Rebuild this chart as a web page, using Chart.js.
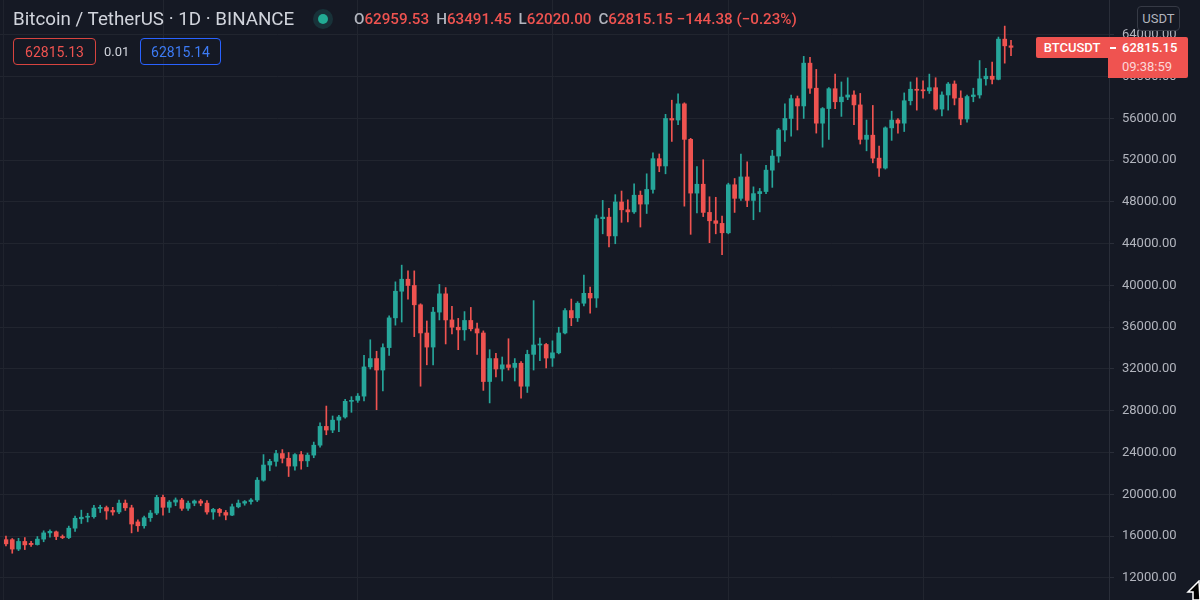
<!DOCTYPE html>
<html>
<head>
<meta charset="utf-8">
<script src="https://cdn.jsdelivr.net/npm/chart.js@4.4.1/dist/chart.umd.min.js"></script>
<style>
  html, body { margin: 0; padding: 0; background: #151924; }
  #wrap { position: relative; width: 1200px; height: 600px; overflow: hidden; font-family: Roboto, "DejaVu Sans", sans-serif; }
  #chart { position: absolute; left: 0; top: 0; }
  .edge { position: absolute; left: 3px; top: 0; width: 1px; height: 600px; background: #1f232d; }
  .txt { position: absolute; white-space: nowrap; }
  .title { left: 13px; top: 7px; font-size: 18.8px; line-height: 24px; color: #d1d4dc; }
  .dot { position: absolute; left: 313px; top: 9px; width: 20px; height: 20px; border-radius: 50%; background: rgba(38,166,154,0.18); }
  .dot::after { content: ""; position: absolute; left: 5px; top: 5px; width: 10px; height: 10px; border-radius: 50%; background: #22ab94; }
  .ohlc { left: 354px; top: 9px; font-size: 15.2px; line-height: 20px; color: #b2b5be; font-weight: 500; }
  .ohlc b { font-weight: 500; color: #ef5350; margin-right: 7px; }
  .box { position: absolute; top: 38px; height: 27px; line-height: 26px; border-radius: 4px; font-size: 14px; text-align: center; box-sizing: border-box; }
  .sell { left: 13px; width: 83px; border: 1.5px solid #d7443f; color: #ef5350; }
  .spread { position: absolute; left: 104px; top: 39px; line-height: 26px; font-size: 13px; color: #d1d4dc; }
  .buy { left: 140px; width: 81px; border: 1.5px solid #2962ff; color: #3d7bf5; }
  .unit { position: absolute; left: 1137px; top: 6px; width: 43px; height: 25px; line-height: 23px; border: 1px solid #363a45; border-radius: 4px; box-sizing: border-box; font-size: 13px; color: #b2b5be; text-align: center; background: #151924; }
  .sym { position: absolute; left: 1036px; top: 37px; width: 72px; height: 21px; line-height: 21px; background: #ef5350; color: #fff; font-size: 13px; font-weight: 500; text-align: center; border-radius: 2px 0 0 2px; }
  .last { position: absolute; left: 1108px; top: 37px; width: 80px; height: 41px; background: #ef5350; border-radius: 0 2px 2px 0; }
  .last .p { position: absolute; left: 14px; top: 1px; line-height: 20px; font-size: 13px; color: #fff; font-weight: 500; }
  .last .t { position: absolute; left: 14px; top: 20px; line-height: 20px; font-size: 13px; color: #fcd6d7; }
  .last .dash { position: absolute; left: 2px; top: 10px; width: 6px; height: 1.5px; background: #fff; }
  .cursor { position: absolute; left: 1186px; top: 580px; }
</style>
</head>
<body>
<div id="wrap">
  <canvas id="chart" width="1200" height="600"></canvas>
  <div class="edge"></div>
  <div class="txt title">Bitcoin / TetherUS · 1D · BINANCE</div>
  <div class="dot"></div>
  <div class="txt ohlc">O<b>62959.53</b>H<b>63491.45</b>L<b>62020.00</b>C<b>62815.15 −144.38 (−0.23%)</b></div>
  <div class="box sell">62815.13</div>
  <div class="spread">0.01</div>
  <div class="box buy">62815.14</div>
  <div class="unit">USDT</div>
  <div class="sym">BTCUSDT</div>
  <div class="last"><div class="dash"></div><div class="p">62815.15</div><div class="t">09:38:59</div></div>
  <svg class="cursor" width="14" height="20"><polygon points="13,1 2,12 7,12 7,20 14,20" fill="#000" stroke="#fff" stroke-width="1.5"/></svg>
</div>
<script>
// Daily BTC/USDT candles (index 0 = first candle on the left)
const opens = [15650, 15650, 14750, 15480, 15300, 15180, 15700, 16300, 16400, 15950,
  15850, 16750, 17650, 17800, 17850, 18650, 18720, 18450, 18300, 19150,
  18700, 17350, 16980, 17750, 18200, 19700, 18750, 19250, 19450, 18650,
  19150, 19350, 19150, 18300, 18550, 18250, 18000, 18800, 19150, 19300,
  19450, 21350, 22800, 23150, 23900, 23450, 22700, 23800, 23200, 23750,
  24700, 26500, 26150, 27100, 27400, 28900, 29000, 29400, 32200, 33000,
  31900, 34050, 36900, 39450, 40600, 40000, 38150, 35450, 34100, 37450,
  39200, 36700, 36000, 35750, 36650, 35850, 35450, 30800, 33000, 32000,
  32400, 32150, 32550, 30350, 33400, 34300, 34350, 33050, 33550, 35450,
  37600, 36900, 38300, 39250, 38800, 46400, 46550, 44750, 48000, 47250,
  47050, 48650, 47800, 49200, 52150, 51450, 56000, 55850, 57400, 54000,
  48850, 49700, 47000, 46200, 45950, 45050, 49650, 48350, 50400, 48150,
  48800, 49000, 51050, 52400, 54900, 56000, 57900, 57200, 61300, 58900,
  55550, 56950, 58850, 57600, 58050, 58250, 57300, 54000, 54400, 52200,
  51250, 55100, 55850, 55550, 57700, 58800, 58700, 58650, 58950, 56900,
  58250, 59300, 57950, 55950, 58100, 58250, 59800, 60050, 59750, 63600,
  62959.53];
const highs = [16000, 15760, 15780, 15850, 15500, 15950, 16500, 16600, 16480, 16100,
  16950, 17900, 18480, 18180, 18950, 18950, 18870, 18750, 19450, 19450,
  18950, 17550, 17900, 18450, 19900, 19930, 19400, 19650, 19600, 19350,
  19450, 19500, 19400, 18650, 18650, 18450, 19050, 19450, 19400, 19580,
  21600, 23800, 23350, 24200, 24280, 24000, 23900, 24100, 23950, 25000,
  26850, 28450, 27500, 27550, 29100, 29350, 29650, 33300, 34800, 33700,
  34400, 37100, 40350, 41950, 41400, 41400, 38250, 36600, 37900, 40100,
  39800, 38000, 36850, 37500, 37900, 36400, 35650, 33850, 33500, 33150,
  34900, 33000, 32700, 33800, 38550, 34950, 34450, 34700, 36000, 37800,
  38700, 38450, 41000, 39850, 46750, 48150, 47400, 48700, 49050, 48200,
  49750, 49050, 50700, 52700, 52600, 56400, 57750, 58350, 57500, 54100,
  51400, 52050, 48500, 48450, 46650, 49800, 50250, 52600, 51850, 49450,
  49300, 51500, 52950, 55050, 57400, 58250, 58150, 61950, 61850, 60700,
  57050, 58950, 60250, 59500, 59900, 58650, 58400, 55850, 57250, 53350,
  55200, 56700, 56000, 58450, 59500, 59900, 59600, 60250, 59900, 58550,
  59450, 59600, 58650, 58250, 58900, 61550, 60800, 61400, 63800, 64850,
  63491.45];
const lows = [15050, 14350, 14600, 14700, 15000, 15130, 15450, 15900, 15650, 15750,
  15750, 16450, 17200, 17350, 17700, 18250, 17600, 18000, 18150, 18450,
  16300, 16450, 16750, 17400, 18050, 18000, 18250, 18900, 18450, 18450,
  18900, 18900, 18100, 17600, 17900, 17550, 17950, 18700, 18950, 19050,
  19300, 21250, 22250, 22700, 23000, 21700, 22300, 22400, 22650, 23500,
  24500, 25700, 25900, 26000, 27300, 27850, 28800, 28950, 32000, 28100,
  29900, 33300, 36200, 36500, 38700, 35100, 30350, 32400, 32400, 36700,
  34400, 35350, 33850, 34750, 35650, 33400, 29950, 28750, 31250, 30850,
  31900, 30850, 29200, 29750, 31900, 32800, 32100, 32250, 33450, 35350,
  36150, 36550, 38050, 37350, 37900, 44950, 43700, 44000, 46050, 46100,
  46900, 45600, 46900, 48850, 50900, 50700, 53800, 55400, 47600, 44900,
  46950, 46600, 44100, 44950, 42950, 44950, 47000, 48150, 47550, 46300,
  47050, 48800, 49400, 51800, 53800, 54300, 54900, 56000, 58400, 54600,
  53250, 54000, 56950, 56200, 57800, 55400, 53550, 52900, 51750, 50450,
  51150, 53900, 54600, 54750, 57300, 56800, 57950, 58400, 56800, 56250,
  56800, 57300, 55400, 55650, 57600, 57950, 59200, 59300, 59700, 61300,
  62020.00];
const closes = [15250, 14750, 15480, 15150, 15180, 15700, 16300, 16450, 15950, 15850,
  16750, 17700, 17800, 17850, 18680, 18720, 18400, 18300, 19150, 18700,
  17150, 16980, 17750, 18200, 19700, 18750, 19250, 19450, 18650, 19150,
  19350, 19150, 18300, 18550, 18250, 18000, 18800, 19150, 19300, 19450,
  21350, 22800, 23150, 23900, 23450, 22700, 23800, 23200, 23750, 24700,
  26500, 26150, 27100, 27400, 28900, 29000, 29400, 32200, 33000, 31900,
  34050, 36900, 39450, 40600, 40000, 38150, 35450, 34100, 37450, 39200,
  36700, 36000, 35750, 36650, 35850, 35450, 30800, 33000, 32000, 32400,
  32150, 32550, 30350, 33400, 34300, 34350, 33050, 33550, 35450, 37600,
  36900, 38300, 39250, 38800, 46400, 46550, 44750, 48000, 47250, 47050,
  48650, 47800, 49200, 52150, 51450, 56000, 55850, 57400, 54000, 48850,
  49700, 47000, 46200, 45950, 45050, 49650, 48350, 50400, 48150, 48800,
  49000, 51050, 52400, 54900, 56000, 57900, 57200, 61300, 58900, 55550,
  56950, 58850, 57600, 58050, 58250, 57300, 54000, 54400, 52200, 51250,
  55100, 55850, 55550, 57700, 58800, 58700, 58650, 58950, 56900, 58250,
  59300, 57950, 55950, 58100, 58250, 59800, 60050, 59750, 63600, 62960,
  62815.15];

// candle indexes where a new month starts (vertical grid lines)
const monthStarts = [25, 56, 87, 115, 146];
const priceTicks = [12000, 16000, 20000, 24000, 28000, 32000, 36000, 40000,
  44000, 48000, 52000, 56000, 60000, 64000];

const upColor = '#26a69a';
const downColor = '#ef5350';
const gridColor = '#21252f';

const colors = opens.map((o, i) => closes[i] >= o ? upColor : downColor);
const bodies = opens.map((o, i) => ({ x: i, y: [o, closes[i]] }));
const wicks = opens.map((o, i) => ({ x: i, y: [lows[i], highs[i]] }));

new Chart(document.getElementById('chart'), {
  type: 'bar',
  data: {
    datasets: [
      { data: bodies, backgroundColor: colors, barThickness: 4, grouped: false, minBarLength: 1 },
      { data: wicks, backgroundColor: colors, barThickness: 1, grouped: false }
    ]
  },
  options: {
    responsive: false,
    animation: false,
    layout: { padding: 0 },
    plugins: { legend: { display: false }, tooltip: { enabled: false } },
    scales: {
      x: {
        type: 'linear',
        min: -0.95,
        max: 175.6,
        offset: false,
        ticks: { display: false },
        grid: { color: gridColor, drawTicks: false, offset: false },
        border: { display: false },
        afterBuildTicks: s => { s.ticks = monthStarts.map(v => ({ value: v })); },
        afterFit: s => { s.height = 0; s.paddingLeft = 0; s.paddingRight = 0; }
      },
      y: {
        position: 'right',
        min: 9870,
        max: 67350,
        ticks: {
          color: '#b2b5be',
          font: { family: 'Roboto', size: 13 },
          padding: 8,
          callback: v => v.toFixed(2)
        },
        grid: { color: gridColor, drawTicks: true, tickLength: 5, tickColor: '#2a2e39' },
        border: { color: '#2a2e39' },
        afterBuildTicks: s => { s.ticks = priceTicks.map(v => ({ value: v })); },
        afterFit: s => { s.width = 91; s.paddingTop = 0; s.paddingBottom = 0; }
      }
    }
  }
});
</script>
</body>
</html>
